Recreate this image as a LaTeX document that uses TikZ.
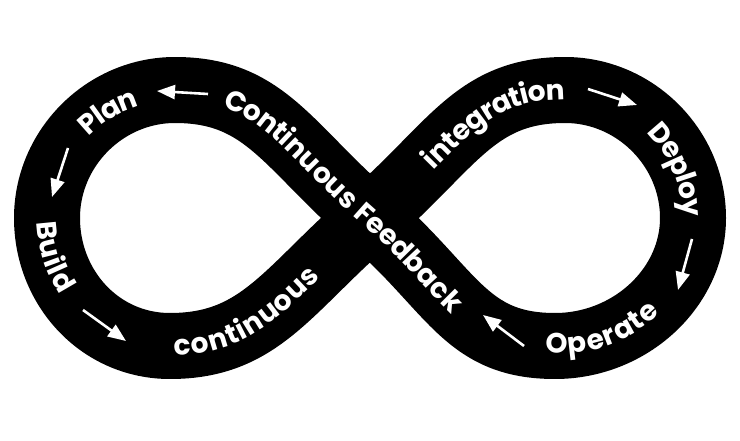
\documentclass[tikz,border=0pt]{standalone}
\usepackage{fontspec}
\setmainfont{Poppins}
\usetikzlibrary{decorations.text,arrows.meta}
\newcommand\lblfont{\bfseries\fontsize{28}{32}\selectfont}
\tikzset{
  band/.style={draw=black, line width=66pt, line join=round},
  lbl/.style={decorate, decoration={text along path, text color=white,
      raise=-9.5pt, text align=center, #1}},
  lbl/.default={},
  flow/.style={white, line width=2.6pt,
      -{Triangle[length=18pt,width=14pt,fill=white]}},
}
\begin{document}
\begin{tikzpicture}[x=1pt,y=1pt]
\useasboundingbox[fill=white] (0,0) rectangle (740,440);
% key points of the centre line
\coordinate (C) at (370,222);
\coordinate (TR) at (565,350);
\coordinate (RR) at (693,222);
\coordinate (BR) at (555,94);
\coordinate (TL) at (175,350);
\coordinate (LL) at (47,222);
\coordinate (BL) at (170,94);
% the band
\draw[band] (C) .. controls (453,294) and (475,350) .. (TR)
  .. controls (635,350) and (693,292) .. (RR)
  .. controls (693,152) and (630,94) .. (BR)
  .. controls (465,94) and (453,150) .. (C)
  .. controls (287,294) and (265,350) .. (TL)
  .. controls (105,350) and (47,292) .. (LL)
  .. controls (47,152) and (100,94) .. (BL)
  .. controls (260,94) and (287,150) .. (C) -- cycle;
% labels
\path[lbl={text={|\lblfont|Continuous Feedback}, text align={left, left indent=52pt}}]
  (TL) .. controls (265,350) and (287,294) .. (C)
  .. controls (453,150) and (465,94) .. (BR);
\path[lbl={text={|\lblfont|Plan}}]
  ([shift={(172,222)}]155:126) arc[start angle=155, end angle=87, radius=126];
\path[lbl={text={|\lblfont|Build}}]
  ([shift={(172,222)}]168:126) arc[start angle=168, end angle=228, radius=126];
\path[lbl={text={|\lblfont|continuous}, text align={left, left indent=4pt}}]
  (BL) .. controls (260,94) and (287,150) .. (C);
\path[lbl={text={|\lblfont|integration}, text align={right, right indent=0pt}}]
  (C) .. controls (453,294) and (475,350) .. (TR);
\path[lbl={text={|\lblfont|Deploy}}]
  ([shift={(563,222)}]53:129) arc[start angle=53, end angle=-7, radius=129];
\path[lbl={text={|\lblfont|Operate}}]
  ([shift={(563,222)}]-100:126) arc[start angle=-100, end angle=-42, radius=126];
% arrows
\coordinate (a1s) at (208,346); \coordinate (a1e) at (157,349);
\coordinate (a2s) at (68,292);  \coordinate (a2e) at (52,243);
\coordinate (a3s) at (83,130);  \coordinate (a3e) at (126,99);
\coordinate (a4s) at (588,351); \coordinate (a4e) at (637,335);
\coordinate (a5s) at (692,201); \coordinate (a5e) at (678,150);
\coordinate (a6s) at (524,94);  \coordinate (a6e) at (483,125);
\draw[flow] (a1s) -- (a1e);
\draw[flow] (a2s) -- (a2e);
\draw[flow] (a3s) -- (a3e);
\draw[flow] (a4s) -- (a4e);
\draw[flow] (a5s) -- (a5e);
\draw[flow] (a6s) -- (a6e);
\end{tikzpicture}
\end{document}
